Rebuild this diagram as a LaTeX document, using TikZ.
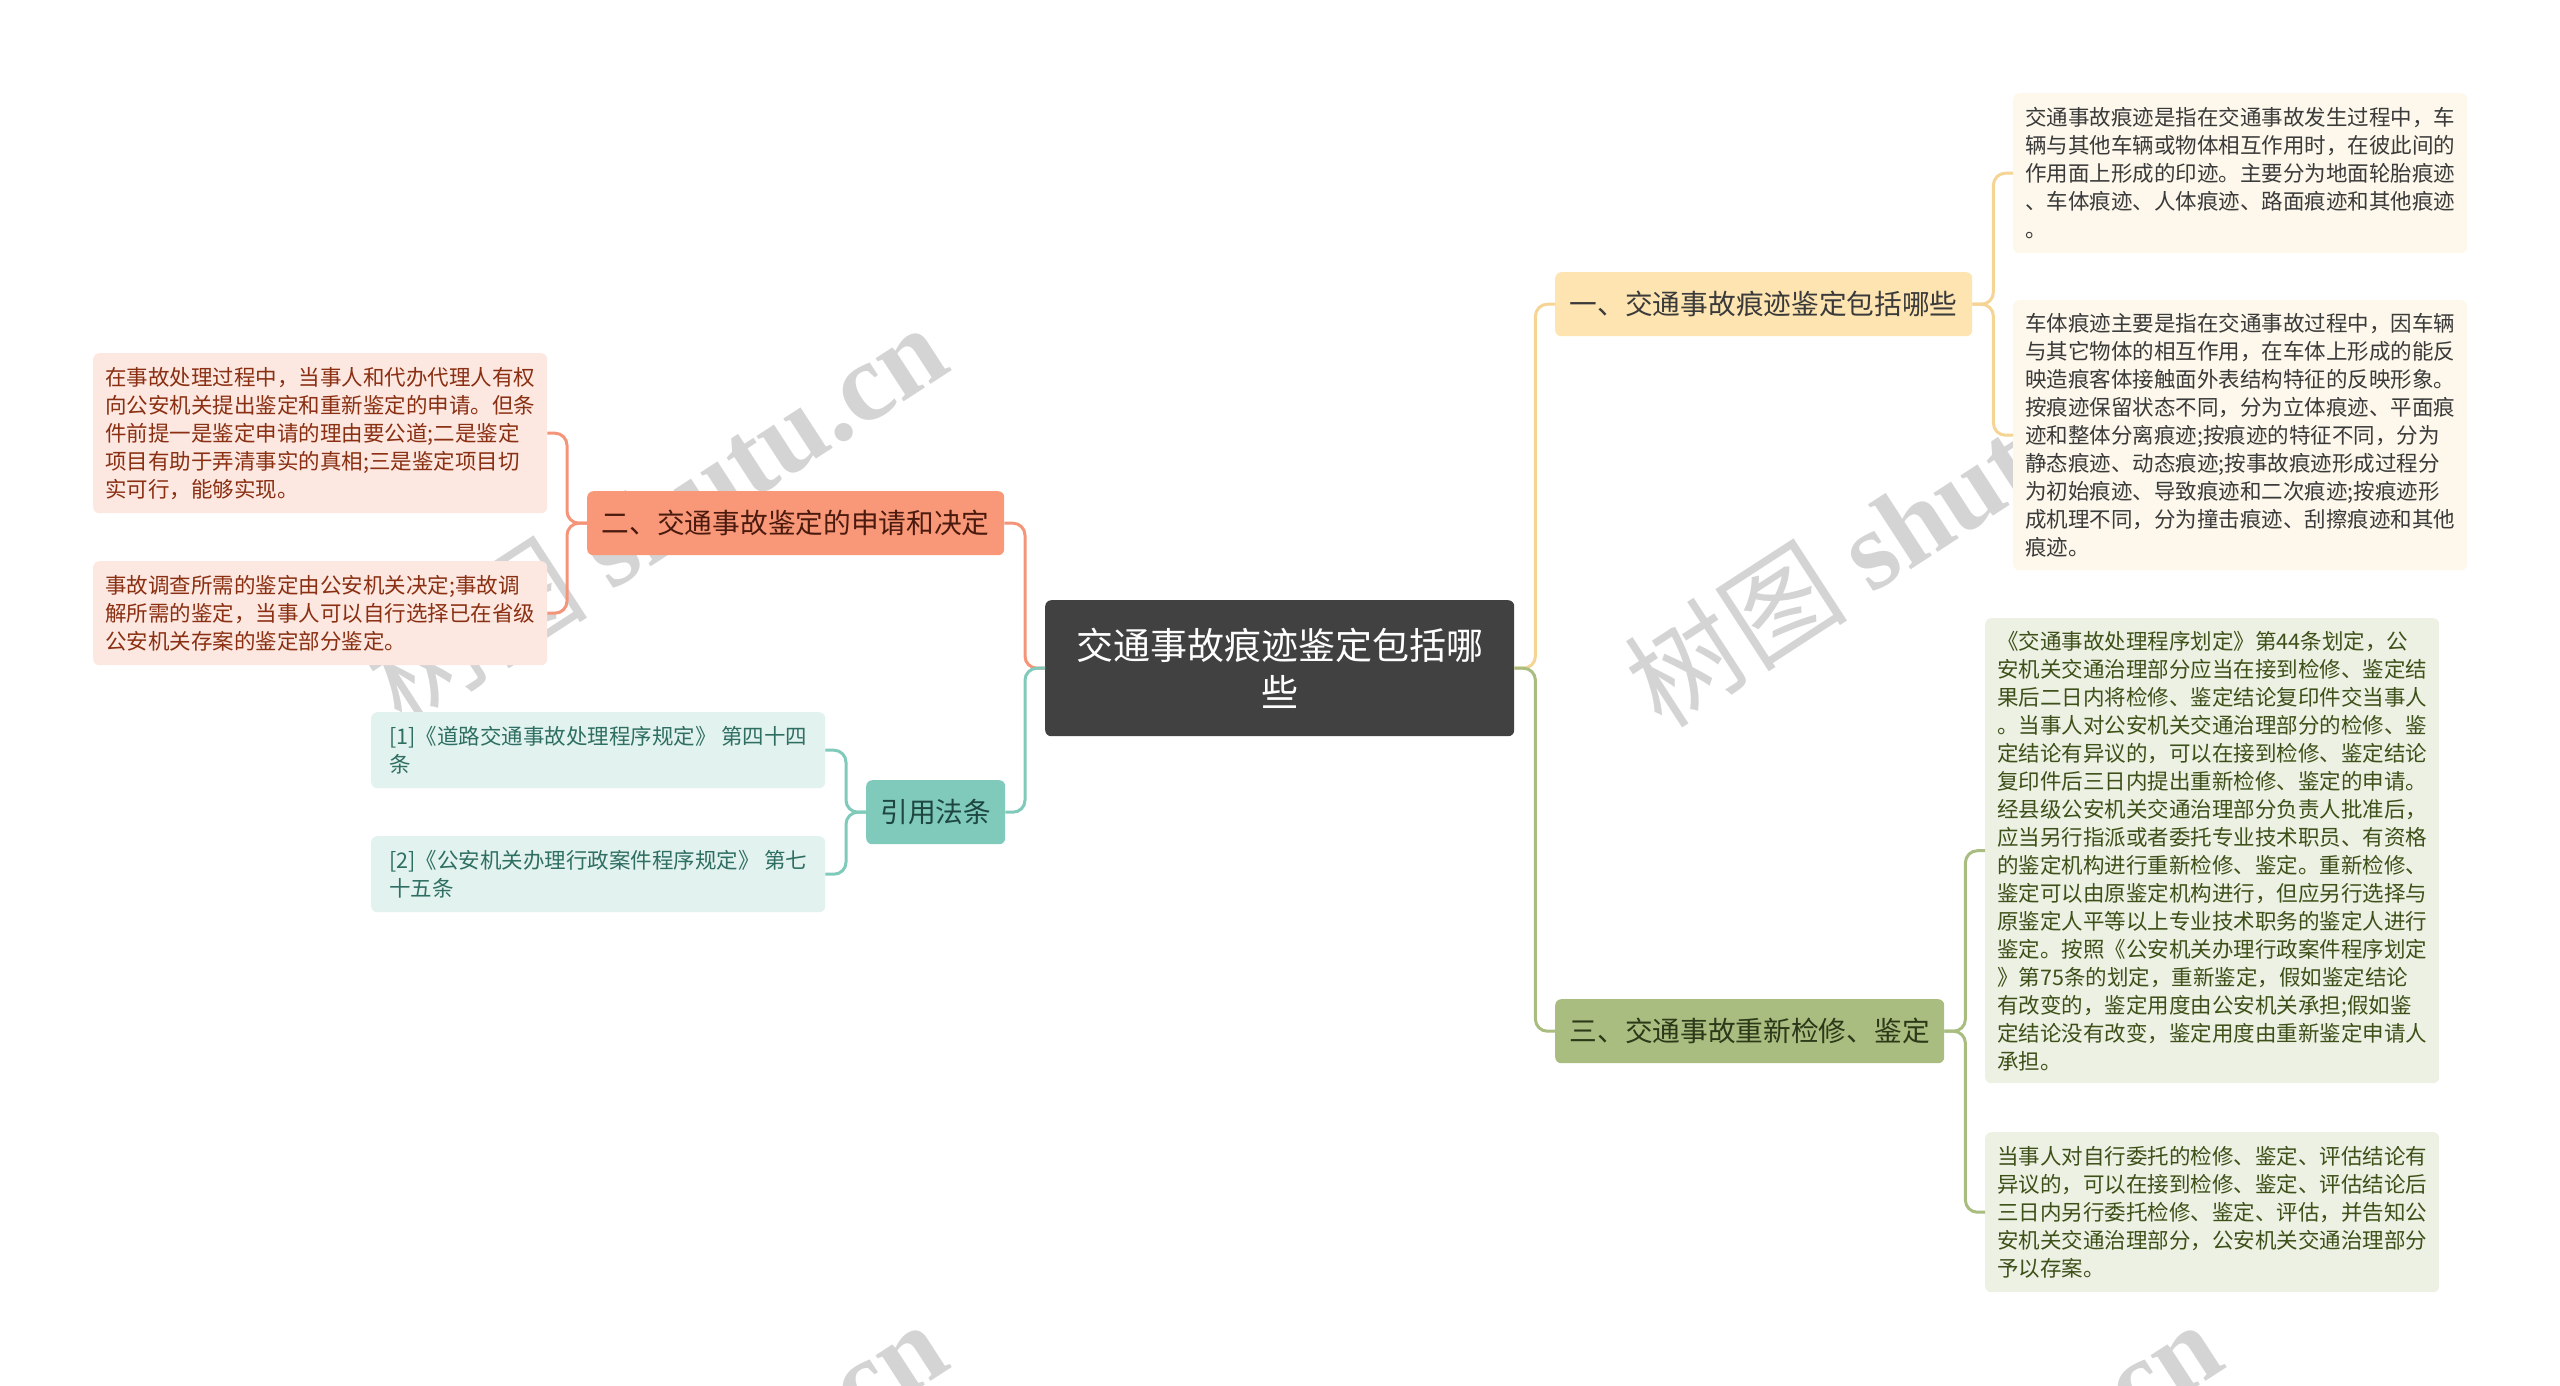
\documentclass[tikz,border=0pt]{standalone}
\usepackage{fontspec}
\setmainfont{Noto Sans CJK SC}
\newfontfamily\wmlatin{Liberation Serif}
\newfontfamily\wmcjk{Noto Sans CJK SC}
\definecolor{rootfill}{HTML}{414141}
\definecolor{bAfill}{HTML}{FDE4B1}
\definecolor{bAline}{HTML}{F5D494}
\definecolor{bBfill}{HTML}{F99878}
\definecolor{bBline}{HTML}{F4957A}
\definecolor{bCfill}{HTML}{A8BD7F}
\definecolor{bCline}{HTML}{A8BD7F}
\definecolor{bDfill}{HTML}{7FCABA}
\definecolor{bDline}{HTML}{7FCABA}
\definecolor{lAfill}{HTML}{FDF8EB}
\definecolor{lBfill}{HTML}{FCE8E1}
\definecolor{lCfill}{HTML}{EDF1E3}
\definecolor{lDfill}{HTML}{E2F3EF}
\definecolor{tA}{HTML}{3A3A3A}
\definecolor{tB}{HTML}{4B1A0E}
\definecolor{tC}{HTML}{2C3818}
\definecolor{tD}{HTML}{1D4640}
\definecolor{tlB}{HTML}{8A2F12}
\definecolor{tlC}{HTML}{3E5019}
\definecolor{tlD}{HTML}{2F6E62}
\definecolor{wm}{HTML}{D4D4D4}
\begin{document}
\begin{tikzpicture}[x=1pt,y=-1pt,
  box/.style={rounded corners=6pt, inner sep=0pt, anchor=north west},
  rootbox/.style={box, fill=rootfill, text=white, align=center,
    font=\fontsize{37}{47}\selectfont},
  mainbox/.style={box, align=center, font=\fontsize{27.7}{34}\selectfont, minimum height=64pt},
  leafbox/.style={box, align=left, font=\fontsize{21.5}{28}\selectfont, minimum width=454pt},
  cline/.style={line width=3pt, rounded corners=12pt},
  wmark/.style={rotate=33, text=wm, inner sep=0pt}
]
\useasboundingbox (0,0) rectangle (2560,1385);
\begin{scope}
\clip (0,0) rectangle (2560,1385);
\node[wmark] (wm1) at (655,513) {\wmcjk\fontsize{112}{112}\selectfont 树图 \wmlatin\bfseries shutu.cn};
\node[wmark] (wm2) at (1915,516) {\wmcjk\fontsize{112}{112}\selectfont 树图 \wmlatin\bfseries shutu.cn};
\node[wmark] (wm3) at (655,1510) {\wmcjk\fontsize{112}{112}\selectfont 树图 \wmlatin\bfseries shutu.cn};
\node[wmark] (wm4) at (1930,1510) {\wmcjk\fontsize{112}{112}\selectfont 树图 \wmlatin\bfseries shutu.cn};
\end{scope}

% root
\node[rootbox, minimum width=469pt, minimum height=136pt] (root) at (1045,600) {交通事故痕迹鉴定包括哪\\些};

% main branches
\node[mainbox, fill=bAfill, text=tA, minimum width=417pt] (bA) at (1555,272) {一、交通事故痕迹鉴定包括哪些};
\node[mainbox, fill=bBfill, text=tB, minimum width=417pt] (bB) at (587,491) {二、交通事故鉴定的申请和决定};
\node[mainbox, fill=bCfill, text=tC, minimum width=389pt] (bC) at (1555,999) {三、交通事故重新检修、鉴定};
\node[mainbox, fill=bDfill, text=tD, minimum width=139pt] (bD) at (866,780) {引用法条};

% leaves of branch A
\node[leafbox, fill=lAfill, text=tA, minimum height=160pt] (lA1) at (2013,93) {交通事故痕迹是指在交通事故发生过程中，车\\辆与其他车辆或物体相互作用时，在彼此间的\\作用面上形成的印迹。主要分为地面轮胎痕迹\\、车体痕迹、人体痕迹、路面痕迹和其他痕迹\\。};
\node[leafbox, fill=lAfill, text=tA, minimum height=270pt] (lA2) at (2013,300) {车体痕迹主要是指在交通事故过程中，因车辆\\与其它物体的相互作用，在车体上形成的能反\\映造痕客体接触面外表结构特征的反映形象。\\按痕迹保留状态不同，分为立体痕迹、平面痕\\迹和整体分离痕迹;按痕迹的特征不同，分为\\静态痕迹、动态痕迹;按事故痕迹形成过程分\\为初始痕迹、导致痕迹和二次痕迹;按痕迹形\\成机理不同，分为撞击痕迹、刮擦痕迹和其他\\痕迹。};

% leaves of branch C
\node[leafbox, fill=lCfill, text=tlC, minimum height=465pt] (lC1) at (1985,618) {《交通事故处理程序划定》第44条划定，公\\安机关交通治理部分应当在接到检修、鉴定结\\果后二日内将检修、鉴定结论复印件交当事人\\。当事人对公安机关交通治理部分的检修、鉴\\定结论有异议的，可以在接到检修、鉴定结论\\复印件后三日内提出重新检修、鉴定的申请。\\经县级公安机关交通治理部分负责人批准后，\\应当另行指派或者委托专业技术职员、有资格\\的鉴定机构进行重新检修、鉴定。重新检修、\\鉴定可以由原鉴定机构进行，但应另行选择与\\原鉴定人平等以上专业技术职务的鉴定人进行\\鉴定。按照《公安机关办理行政案件程序划定\\》第75条的划定，重新鉴定，假如鉴定结论\\有改变的，鉴定用度由公安机关承担;假如鉴\\定结论没有改变，鉴定用度由重新鉴定申请人\\承担。};
\node[leafbox, fill=lCfill, text=tlC, minimum height=160pt] (lC2) at (1985,1132) {当事人对自行委托的检修、鉴定、评估结论有\\异议的，可以在接到检修、鉴定、评估结论后\\三日内另行委托检修、鉴定、评估，并告知公\\安机关交通治理部分，公安机关交通治理部分\\予以存案。};

% leaves of branch B
\node[leafbox, fill=lBfill, text=tlB, minimum height=160pt] (lB1) at (93,353) {在事故处理过程中，当事人和代办代理人有权\\向公安机关提出鉴定和重新鉴定的申请。但条\\件前提一是鉴定申请的理由要公道;二是鉴定\\项目有助于弄清事实的真相;三是鉴定项目切\\实可行，能够实现。};
\node[leafbox, fill=lBfill, text=tlB, minimum height=104pt] (lB2) at (93,561) {事故调查所需的鉴定由公安机关决定;事故调\\解所需的鉴定，当事人可以自行选择已在省级\\公安机关存案的鉴定部分鉴定。};

% leaves of branch D
\node[leafbox, fill=lDfill, text=tlD, minimum height=76pt] (lD1) at (371,712) {[1]《道路交通事故处理程序规定》 第四十四\\条};
\node[leafbox, fill=lDfill, text=tlD, minimum height=76pt] (lD2) at (371,836) {[2]《公安机关办理行政案件程序规定》 第七\\十五条};

% connectors
\draw[cline, bAline] (root.east) -- ++(21,0) |- (bA.west);
\draw[cline, bCline] (root.east) -- ++(21,0) |- (bC.west);
\draw[cline, bBline] (root.west) -- ++(-20,0) |- (bB.east);
\draw[cline, bDline] (root.west) -- ++(-20,0) |- (bD.east);

\draw[cline, bAline] (bA.east) -- ++(21,0) |- (lA1.west);
\draw[cline, bAline] (bA.east) -- ++(21,0) |- (lA2.west);
\draw[cline, bCline] (bC.east) -- ++(21,0) |- (lC1.west);
\draw[cline, bCline] (bC.east) -- ++(21,0) |- (lC2.west);
\draw[cline, bBline] (bB.west) -- ++(-20,0) |- (lB1.east);
\draw[cline, bBline] (bB.west) -- ++(-20,0) |- (lB2.east);
\draw[cline, bDline] (bD.west) -- ++(-20,0) |- (lD1.east);
\draw[cline, bDline] (bD.west) -- ++(-20,0) |- (lD2.east);
\end{tikzpicture}
\end{document}
